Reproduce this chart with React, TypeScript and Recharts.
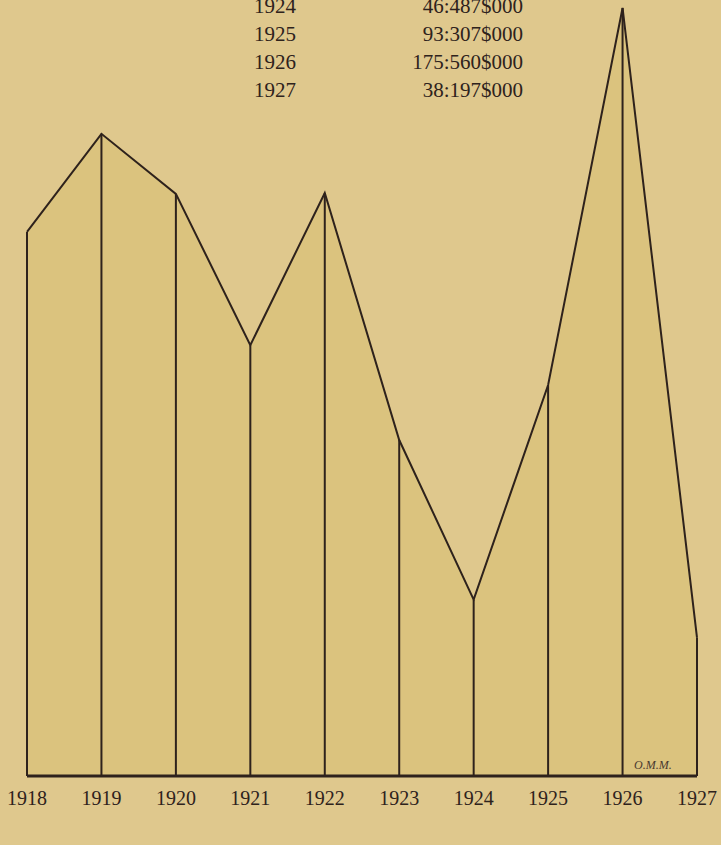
import { ComposedChart, Line, Area, XAxis, YAxis, ReferenceLine } from "recharts";

// years and yearly values (in mil-réis)
const years = ["1918", "1919", "1920", "1921", "1922", "1923", "1924", "1925", "1926", "1927"];
const values = [126700, 148100, 135000, 102000, 135200, 81300, 46487, 93307, 175560, 38197];
// rows of the table that are visible above the chart
const tableYears = ["1924", "1925", "1926", "1927"];

const yMin = 8000;
const yMax = 177300;

const ink = "#2e221c";
const serif = "'Liberation Serif', 'DejaVu Serif', serif";

const data = years.map((year, i) => ({ year, value: values[i] }));

function fmt(v: number) {
    return `${Math.floor(v / 1000)}:${String(v % 1000).padStart(3, "0")}$000`;
}

export default function App() {
    return (
        <div style={{ position: "relative", width: 721, height: 845, background: "#dfc88d", overflow: "hidden" }}>
            <style>{`body{margin:0}`}</style>

            {tableYears.map((y, i) => {
                const v = values[years.indexOf(y)];
                return (
                    <div
                        key={y}
                        style={{
                            position: "absolute",
                            top: -8 + i * 28,
                            left: 0,
                            width: 721,
                            height: 28,
                            lineHeight: "28px",
                            fontFamily: serif,
                            fontSize: 21,
                            color: ink,
                        }}
                    >
                        <span style={{ position: "absolute", right: 721 - 296 }}>{y}</span>
                        <span style={{ position: "absolute", right: 721 - 523 }}>{fmt(v)}</span>
                    </div>
                );
            })}

            <div style={{ position: "absolute", top: 0, left: 0 }}>
                <ComposedChart width={721} height={845} data={data} margin={{ top: 0, right: 24, left: 27, bottom: 0 }}>
                    <XAxis
                        dataKey="year"
                        scale="point"
                        padding={{ left: 0, right: 0 }}
                        height={69}
                        tickLine={false}
                        tickMargin={9}
                        axisLine={{ stroke: ink, strokeWidth: 3 }}
                        tick={{ fill: ink, fontFamily: serif, fontSize: 20 }}
                        interval={0}
                    />
                    <YAxis hide domain={[yMin, yMax]} allowDataOverflow />
                    <Area
                        type="linear"
                        dataKey="value"
                        stroke="none"
                        fill="#d4b964"
                        fillOpacity={0.35}
                        isAnimationActive={false}
                    />
                    {data.map((d) => (
                        <ReferenceLine
                            key={d.year}
                            segment={[
                                { x: d.year, y: yMin },
                                { x: d.year, y: d.value },
                            ]}
                            stroke={ink}
                            strokeWidth={2}
                            ifOverflow="visible"
                        />
                    ))}
                    <Line
                        type="linear"
                        dataKey="value"
                        stroke={ink}
                        strokeWidth={2}
                        dot={false}
                        activeDot={false}
                        isAnimationActive={false}
                    />
                </ComposedChart>
            </div>

            <div
                style={{
                    position: "absolute",
                    left: 634,
                    top: 758,
                    fontFamily: serif,
                    fontStyle: "italic",
                    fontSize: 12,
                    color: "#4a3a30",
                }}
            >
                O.M.M.
            </div>
        </div>
    );
}
